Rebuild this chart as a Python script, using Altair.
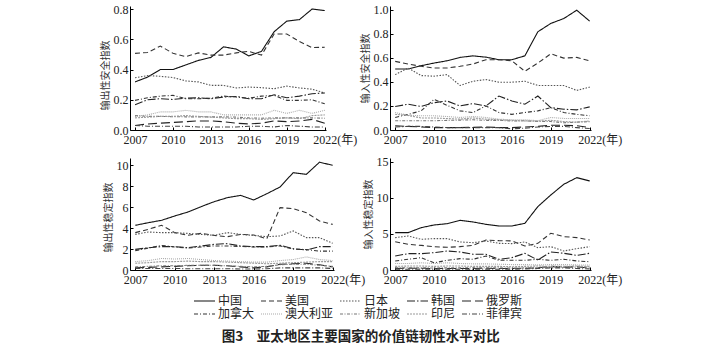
import altair as alt
import pandas as pd

years = list(range(2007, 2023))
countries = ["中国", "美国", "日本", "韩国", "俄罗斯", "加拿大", "澳大利亚", "新加坡", "印尼", "菲律宾"]
x_ticks = [2007, 2010, 2013, 2016, 2019, 2022]

# 输出性安全指数
export_security = {
    "中国": [0.318, 0.35, 0.40, 0.40, 0.43, 0.46, 0.48, 0.55, 0.535, 0.49, 0.52, 0.65, 0.72, 0.73, 0.80, 0.79],
    "美国": [0.507, 0.513, 0.555, 0.507, 0.485, 0.51, 0.495, 0.495, 0.51, 0.52, 0.495, 0.635, 0.635, 0.585, 0.545, 0.547],
    "日本": [0.345, 0.36, 0.355, 0.347, 0.325, 0.318, 0.295, 0.295, 0.278, 0.284, 0.28, 0.273, 0.29, 0.278, 0.27, 0.245],
    "韩国": [0.167, 0.2, 0.207, 0.202, 0.21, 0.213, 0.207, 0.218, 0.222, 0.207, 0.207, 0.233, 0.213, 0.224, 0.24, 0.245],
    "俄罗斯": [0.03, 0.04, 0.045, 0.05, 0.055, 0.06, 0.06, 0.055, 0.045, 0.04, 0.045, 0.06, 0.055, 0.06, 0.07, 0.045],
    "加拿大": [0.196, 0.213, 0.224, 0.229, 0.207, 0.207, 0.21, 0.224, 0.218, 0.21, 0.224, 0.229, 0.196, 0.196, 0.2, 0.173],
    "澳大利亚": [0.09, 0.1, 0.12, 0.12, 0.13, 0.12, 0.12, 0.1, 0.1, 0.1, 0.1, 0.13, 0.11, 0.13, 0.11, 0.13],
    "新加坡": [0.095, 0.09, 0.09, 0.088, 0.087, 0.087, 0.087, 0.087, 0.085, 0.08, 0.078, 0.08, 0.08, 0.08, 0.08, 0.078],
    "印尼": [0.08, 0.085, 0.09, 0.09, 0.095, 0.09, 0.085, 0.08, 0.075, 0.075, 0.07, 0.075, 0.08, 0.075, 0.095, 0.1],
    "菲律宾": [0.03, 0.025, 0.025, 0.025, 0.025, 0.02, 0.02, 0.02, 0.02, 0.025, 0.025, 0.02, 0.03, 0.025, 0.02, 0.02],
}

# 输入性安全指数
import_security = {
    "中国": [0.507, 0.507, 0.534, 0.556, 0.575, 0.603, 0.616, 0.605, 0.584, 0.584, 0.616, 0.816, 0.885, 0.926, 0.995, 0.904],
    "美国": [0.57, 0.548, 0.529, 0.515, 0.515, 0.529, 0.548, 0.584, 0.584, 0.575, 0.488, 0.556, 0.633, 0.597, 0.603, 0.575],
    "日本": [0.46, 0.515, 0.452, 0.447, 0.46, 0.37, 0.405, 0.419, 0.397, 0.397, 0.405, 0.37, 0.37, 0.37, 0.329, 0.356],
    "韩国": [0.195, 0.214, 0.195, 0.227, 0.241, 0.2, 0.219, 0.2, 0.282, 0.241, 0.214, 0.282, 0.186, 0.173, 0.167, 0.192],
    "俄罗斯": [0.035, 0.03, 0.025, 0.02, 0.02, 0.02, 0.022, 0.025, 0.02, 0.02, 0.025, 0.03, 0.04, 0.04, 0.035, 0.02],
    "加拿大": [0.104, 0.13, 0.159, 0.255, 0.205, 0.159, 0.145, 0.2, 0.145, 0.13, 0.145, 0.159, 0.186, 0.145, 0.13, 0.118],
    "澳大利亚": [0.145, 0.123, 0.118, 0.118, 0.112, 0.104, 0.112, 0.104, 0.09, 0.085, 0.085, 0.077, 0.104, 0.096, 0.096, 0.096],
    "新加坡": [0.077, 0.077, 0.077, 0.077, 0.08, 0.082, 0.085, 0.08, 0.08, 0.075, 0.077, 0.07, 0.07, 0.06, 0.065, 0.07],
    "印尼": [0.13, 0.12, 0.1, 0.1, 0.095, 0.09, 0.1, 0.09, 0.085, 0.08, 0.075, 0.075, 0.08, 0.07, 0.065, 0.075],
    "菲律宾": [0.025, 0.03, 0.03, 0.025, 0.02, 0.02, 0.02, 0.02, 0.02, 0.01, 0.015, 0.025, 0.03, 0.03, 0.02, 0.012],
}

# 输出性稳定指数
export_stability = {
    "中国": [4.27, 4.52, 4.75, 5.16, 5.54, 6.05, 6.53, 6.91, 7.13, 6.69, 7.29, 7.93, 9.3, 9.14, 10.3, 10.0],
    "美国": [3.57, 3.89, 4.27, 3.57, 3.31, 3.5, 3.31, 3.18, 3.4, 3.34, 2.99, 5.96, 5.86, 5.48, 4.68, 4.36],
    "日本": [3.4, 3.63, 3.57, 3.57, 3.5, 3.4, 3.31, 3.57, 3.4, 3.31, 3.18, 3.25, 3.73, 3.09, 3.09, 2.55],
    "韩国": [1.97, 2.13, 2.23, 2.23, 2.13, 2.29, 2.45, 2.52, 2.29, 2.23, 2.23, 2.36, 2.04, 1.91, 2.23, 2.23],
    "俄罗斯": [0.2, 0.25, 0.3, 0.35, 0.4, 0.45, 0.45, 0.4, 0.3, 0.2, 0.3, 0.55, 0.6, 0.65, 0.5, 0.3],
    "加拿大": [1.85, 2.1, 2.35, 2.2, 2.1, 2.2, 2.3, 2.3, 2.25, 2.2, 2.2, 2.3, 2.0, 1.95, 1.8, 1.8],
    "澳大利亚": [0.8, 0.9, 1.1, 1.05, 1.1, 1.0, 0.9, 0.85, 0.8, 0.75, 0.75, 0.9, 1.0, 1.25, 1.0, 0.9],
    "新加坡": [0.3, 0.35, 0.4, 0.4, 0.45, 0.45, 0.45, 0.4, 0.35, 0.3, 0.35, 0.5, 0.55, 0.55, 0.45, 0.35],
    "印尼": [0.65, 0.7, 0.8, 0.8, 0.85, 0.8, 0.8, 0.75, 0.7, 0.65, 0.6, 0.65, 0.7, 0.75, 0.8, 0.8],
    "菲律宾": [0.15, 0.15, 0.15, 0.15, 0.12, 0.12, 0.12, 0.12, 0.1, 0.1, 0.12, 0.2, 0.2, 0.2, 0.2, 0.15],
}

# 输入性稳定指数
import_stability = {
    "中国": [5.17, 5.17, 5.86, 6.23, 6.41, 6.88, 6.65, 6.32, 6.09, 6.09, 6.46, 8.77, 10.38, 11.86, 12.78, 12.32],
    "美国": [3.92, 3.55, 3.41, 3.23, 3.14, 3.23, 3.41, 4.15, 4.06, 4.02, 3.32, 3.69, 5.08, 4.62, 4.48, 4.15],
    "日本": [4.48, 4.71, 4.25, 4.34, 4.34, 3.88, 3.78, 4.02, 3.69, 3.65, 3.88, 3.09, 3.23, 2.63, 2.95, 3.23],
    "韩国": [1.94, 2.26, 2.26, 2.4, 2.63, 2.49, 2.17, 2.17, 1.48, 1.71, 2.31, 1.38, 2.49, 2.31, 2.03, 2.31],
    "俄罗斯": [0.2, 0.25, 0.25, 0.2, 0.2, 0.2, 0.2, 0.25, 0.2, 0.2, 0.25, 0.3, 0.5, 0.4, 0.45, 0.25],
    "加拿大": [1.25, 1.48, 1.71, 1.0, 1.34, 1.57, 1.48, 1.94, 1.34, 1.34, 1.34, 1.48, 1.34, 1.48, 1.25, 1.15],
    "澳大利亚": [0.9, 0.9, 1.0, 0.9, 1.0, 0.9, 0.85, 0.85, 0.8, 0.75, 0.75, 0.7, 0.75, 0.75, 0.7, 0.7],
    "新加坡": [0.3, 0.32, 0.3, 0.28, 0.3, 0.3, 0.32, 0.3, 0.3, 0.25, 0.3, 0.3, 0.4, 0.35, 0.4, 0.4],
    "印尼": [0.5, 0.55, 0.55, 0.5, 0.55, 0.55, 0.5, 0.5, 0.5, 0.45, 0.5, 0.55, 0.5, 0.5, 0.55, 0.5],
    "菲律宾": [0.1, 0.1, 0.12, 0.1, 0.1, 0.1, 0.1, 0.12, 0.1, 0.1, 0.15, 0.2, 0.3, 0.3, 0.2, 0.15],
}

line_colors = {"中国": "#111111", "美国": "#333333", "日本": "#555555", "韩国": "#222222",
               "俄罗斯": "#222222", "加拿大": "#333333", "澳大利亚": "#aaaaaa",
               "新加坡": "#777777", "印尼": "#999999", "菲律宾": "#444444"}
line_dashes = {"中国": [1, 0], "美国": [5, 3], "日本": [1.5, 1.5], "韩国": [8, 2, 1.5, 2],
               "俄罗斯": [9, 4], "加拿大": [4, 2, 1, 2], "澳大利亚": [1, 1],
               "新加坡": [3, 1.5, 1, 1.5], "印尼": [2, 1], "菲律宾": [5, 2, 1, 2]}

# legend fills column by column: order so that rows read 中国…俄罗斯 / 加拿大…菲律宾
legend_order = [countries[i // 2 + 5 * (i % 2)] for i in range(10)]

SERIF = "Liberation Serif"
CJK = "Noto Sans CJK SC"
XMIN, XMAX = 2006.6, 2022.1

legend = alt.Legend(
    title=None, orient="none", legendX=63, legendY=289, columns=5,
    symbolType="M-1,0H3.2", symbolSize=100, symbolStrokeWidth=1.1,
    labelFont=CJK, labelFontSize=12, labelColor="#222222", labelOffset=13,
    columnPadding=3, rowPadding=1, symbolOffset=0, padding=0,
)


def panel(data, ytitle, ymax, yticks, yfmt, width, height, title_y):
    rows = []
    for c in countries:
        for yr, v in zip(years, data[c]):
            rows.append({"year": yr, "country": c, "value": v})
    df = pd.DataFrame(rows)
    pos2022 = (2022 - XMIN) / (XMAX - XMIN) * width
    return alt.Chart(df).mark_line(strokeWidth=1.1).encode(
        x=alt.X("year:Q",
                scale=alt.Scale(domain=[XMIN, XMAX], nice=False, zero=False),
                axis=alt.Axis(values=x_ticks, format="d", title="(年)",
                              titleFont=f"'{SERIF}', '{CJK}'", titleFontSize=12,
                              titleFontWeight="normal", titleColor="#222222",
                              titleX=pos2022 + 12, titleY=4, titleAlign="left",
                              titleBaseline="top", titleAngle=0,
                              labelFont=SERIF, labelFontSize=12, labelColor="#222222",
                              labelPadding=7, tickSize={"expr": "-3"},
                              domainColor="#000000", tickColor="#000000",
                              grid=False, labelFlush=False)),
        y=alt.Y("value:Q",
                scale=alt.Scale(domain=[0, ymax], nice=False),
                axis=alt.Axis(values=yticks, format=yfmt, title=ytitle,
                              titleFont=CJK, titleFontSize=10, titleFontWeight="normal",
                              titleColor="#333333", titlePadding=3, titleY=title_y,
                              labelFont=SERIF, labelFontSize=12, labelColor="#222222",
                              labelPadding=5, tickSize={"expr": "-3"},
                              domainColor="#000000", tickColor="#000000",
                              grid=False, labelFlush=False)),
        color=alt.Color("country:N",
                        scale=alt.Scale(domain=legend_order,
                                        range=[line_colors[c] for c in legend_order]),
                        legend=legend),
        strokeDash=alt.StrokeDash("country:N",
                                  scale=alt.Scale(domain=legend_order,
                                                  range=[line_dashes[c] for c in legend_order]),
                                  legend=legend),
    ).properties(width=width, height=height)


p1 = panel(export_security, "输出性安全指数", 0.82, [0, 0.2, 0.4, 0.6, 0.8], ".1f", 196, 124, 69)
p2 = panel(import_security, "输入性安全指数", 1.03, [0, 0.2, 0.4, 0.6, 0.8, 1.0], ".1f", 201, 124, 62)
p3 = panel(export_stability, "输出性稳定指数", 10.7, [0, 2, 4, 6, 8, 10], "d", 204, 112, 59)
p4 = panel(import_stability, "输入性稳定指数", 15.5, [0, 5, 10, 15], "d", 201, 112, 56)

chart = alt.concat(p1, p2, p3, p4, columns=2, spacing={"row": 28, "column": 56},
                   bounds="flush").resolve_scale(
    color="shared", strokeDash="shared"
).properties(
    title=alt.TitleParams("图3\u3000亚太地区主要国家的价值链韧性水平对比", orient="bottom",
                          anchor="middle", font=CJK, fontSize=13.5, fontWeight="bold",
                          color="#222222", offset=10),
    padding={"left": 100, "top": 3, "right": 10, "bottom": 5},
).configure_view(stroke=None)

chart.save("out.html", embed_options={"renderer": "svg", "actions": False})
